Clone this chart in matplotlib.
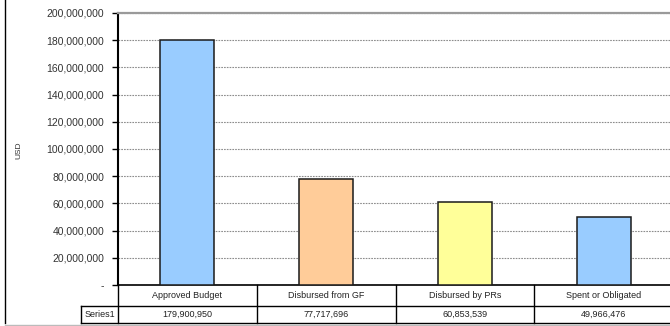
import matplotlib
matplotlib.use("Agg")
import matplotlib.pyplot as plt
import matplotlib.transforms as mtransforms
from matplotlib.lines import Line2D
from matplotlib.ticker import FuncFormatter

plt.rcParams['font.family'] = ['Liberation Sans', 'DejaVu Sans']

# data
categories = ['Approved Budget', 'Disbursed from GF', 'Disbursed by PRs', 'Spent or Obligated']
values = [179900950, 77717696, 60853539, 49966476]
bar_colors = ['#99CCFF', '#FFCC99', '#FFFF99', '#99CCFF']
series_name = 'Series1'
y_label = 'USD'

W, H = 670, 326
fig = plt.figure(figsize=(W / 100, H / 100), dpi=100, facecolor='white')

# plot area runs a little past the right edge of the picture
left, right, top, bottom = 118, 673, 13, 285
ax = fig.add_axes([left / W, 1 - bottom / H, (right - left) / W, (bottom - top) / H])
ax.set_facecolor('white')

x = range(len(categories))
ax.bar(x, values, width=0.39, color=bar_colors, edgecolor='#1a1a1a', linewidth=1.1, zorder=3)

ax.set_xlim(-0.5, len(categories) - 0.5)
ax.set_ylim(0, 200_000_000)
ax.set_yticks(range(0, 200_000_001, 20_000_000))
ax.yaxis.set_major_formatter(FuncFormatter(lambda v, p: '-' if v == 0 else f'{int(v):,}'))
ax.tick_params(axis='y', direction='out', length=4, width=1, labelsize=7.5, pad=6,
               colors='black', labelcolor='#333333')
ax.set_xticks([])

ax.yaxis.grid(True, color='#8c8c8c', linestyle=(0, (1.5, 1)), linewidth=0.8, zorder=1)
ax.set_axisbelow(True)

ax.spines['right'].set_visible(False)
ax.spines['top'].set_color('#9a9a9a')
ax.spines['top'].set_linewidth(1.6)
ax.spines['left'].set_linewidth(1.5)
ax.spines['bottom'].set_linewidth(1.2)

# y label
fig.text(19 / W, 1 - 150 / H, y_label, rotation=90, fontsize=6, ha='center', va='center',
         color='#333333')

# data table under the axis
trans = mtransforms.blended_transform_factory(ax.transData, ax.transAxes)
ah = bottom - top
row1 = -(306 - bottom) / ah
row2 = -(323 - bottom) / ah
label_left = -0.5 - (118 - 81) / ((right - left) / len(categories))
n = len(categories)

def hline(x0, x1, y):
    ax.add_line(Line2D([x0, x1], [y, y], transform=trans, color='black', lw=1.0, clip_on=False))

def vline(xv, y0, y1):
    ax.add_line(Line2D([xv, xv], [y0, y1], transform=trans, color='black', lw=1.0, clip_on=False))

hline(label_left, n - 0.5, row1)
hline(label_left, n - 0.5, row2)
for i in range(n + 1):
    vline(i - 0.5, 0, row2)
vline(label_left, row1, row2)

for i, (cat, val) in enumerate(zip(categories, values)):
    ax.text(i, row1 / 2, cat, transform=trans, ha='center', va='center', fontsize=6.5,
            color='#222222', clip_on=False)
    ax.text(i, (row1 + row2) / 2, f'{val:,}', transform=trans, ha='center', va='center',
            fontsize=6.5, color='#222222', clip_on=False)
ax.text((label_left - 0.5) / 2, (row1 + row2) / 2, series_name, transform=trans,
        ha='center', va='center', fontsize=6.5, color='#222222', clip_on=False)

# chart border
fig.add_artist(Line2D([4.5 / W, 4.5 / W], [1 - 323 / H, 1], transform=fig.transFigure,
                      color='black', lw=1.0))
fig.add_artist(Line2D([4.5 / W, 1], [1 - 324.5 / H, 1 - 324.5 / H], transform=fig.transFigure,
                      color='#bbbbbb', lw=1.0))

fig.savefig('out.png', dpi=100, facecolor='white')
